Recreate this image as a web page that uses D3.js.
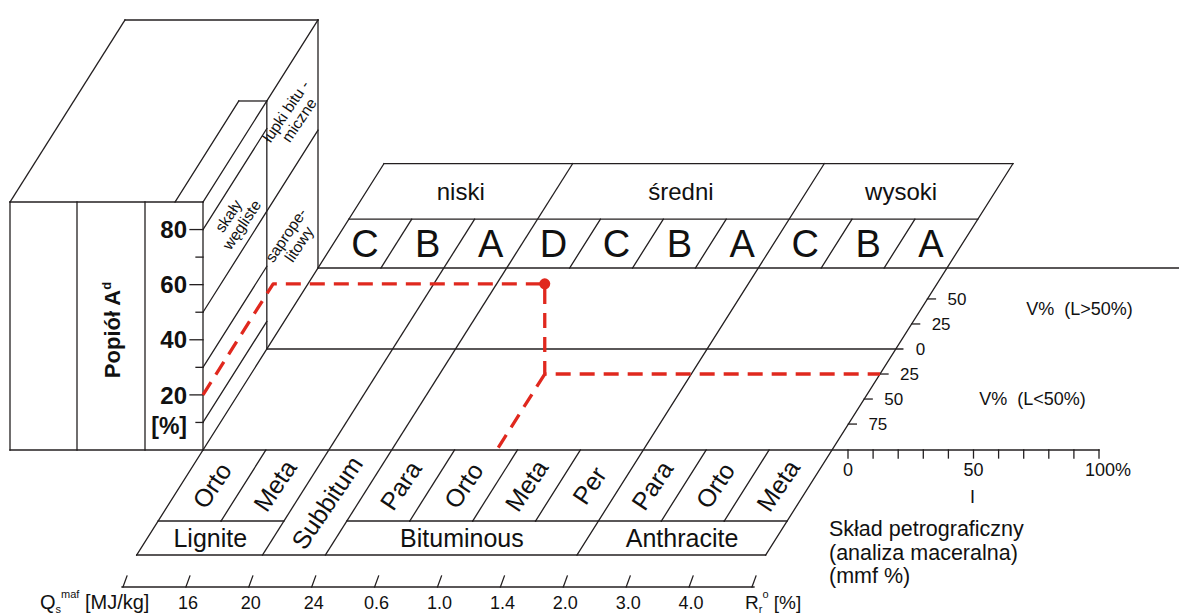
<!DOCTYPE html>
<html>
<head>
<meta charset="utf-8">
<script src="https://cdn.jsdelivr.net/npm/d3@7"></script>
<style>
	body { margin: 0; background: #fff; }
	svg { display: block; font-family: "Liberation Sans", Arial, sans-serif; }
</style>
</head>
<body>
<svg id="chart" width="1179" height="615"></svg>
<script>
// chart data
const ashTicks = [10, 20, 30, 40, 50, 60, 70, 80];
const ashLabelled = [20, 40, 60, 80];
const sideBoundsCoal = [80, 30, 10];
const sideBoundsAll = [50];
const sideZones = [
	{ lines: ["skały", "węgliste"], ash: [50, 80], col: 0 },
	{ lines: ["łupki bitu -", "miczne"], ash: [50, 90], col: 1 },
	{ lines: ["saprope-", "litowy"], ash: [0, 50], col: 1 },
];
const rankClasses = ["Lignite", "Subbitum", "Bituminous", "Anthracite"];
const rankClassSpans = [2, 1, 4, 3];
const rankSubclasses = ["Orto", "Meta", null, "Para", "Orto", "Meta", "Per", "Para", "Orto", "Meta"];
const rankGroups = ["niski", "średni", "wysoki"];
const rankGroupSpans = [3, 4, 3];
const gradeLetters = ["C", "B", "A", "D", "C", "B", "A", "C", "B", "A"];
const qsTicks = ["16", "20", "24"];
const rrTicks = ["0.6", "1.0", "1.4", "2.0", "3.0", "4.0"];
const vTicks = [50, 25, 0, -25, -50, -75];
const petroTicks = [0, 10, 20, 30, 40, 50, 60, 70, 80, 90, 100];
const petroLabels = [0, 50, 100];
const sample = { rank: 4.67, ash: 20, v: -25 };

const svg = d3.select("#chart");
const ink = "#231f20";
const red = "#e0281e";
const textInk = "#111";

// scales: rank slots along the front edge, ash upwards, depth is oblique
const x = d3.scaleLinear().domain([0, rankSubclasses.length]).range([203, 832]);
const y = d3.scaleLinear().domain([0, 90]).range([450, 202]);
const pV = d3.scaleLinear().domain([-75, 50]).range([0.1425, 0.83]);
const petro = d3.scaleLinear().domain([0, 100]).range([848, 1099]);
const DX = 115, DY = 182;
const proj = (x0, y0, p) => [x0 + p * DX, y0 - p * DY];

const y0 = y(0);
const P_BOT = -0.577, P_MID = -0.39, P_COL = pV(0), P_GRADE = 1.268, P_GROUP = 1.574, P_ASH = 0.61;
const at = (k, p) => proj(x(k), y0, p);

const classEdges = Array.from(d3.cumsum([0, ...rankClassSpans]));
const groupEdges = Array.from(d3.cumsum([0, ...rankGroupSpans]));

const segs = [];
const add = (a, b) => segs.push([a, b]);

// left block (ash)
const boxLeft = 10, boxCols = [77, 145], notchX = 175;
const boxTop = y(90);
add([boxLeft, boxTop], [x(0), boxTop]);
add([boxLeft, y0], [x(0), y0]);
add([boxLeft, boxTop], [boxLeft, y0]);
add([x(0), boxTop], [x(0), y0]);
boxCols.forEach(c => add([c, boxTop], [c, y0]));
add([boxLeft, boxTop], proj(boxLeft, boxTop, 1));
add(proj(boxLeft, boxTop, 1), proj(x(0), boxTop, 1));
add([x(0), boxTop], proj(x(0), boxTop, 1));
add([notchX, boxTop], proj(notchX, boxTop, P_COL));
add(proj(notchX, boxTop, P_COL), proj(x(0), boxTop, P_COL));
add(proj(x(0), boxTop, P_COL), proj(x(0), y0, P_COL));
add(proj(x(0), boxTop, 1), proj(x(0), y0, 1));
sideBoundsCoal.forEach(a => add(proj(x(0), y(a), 0), proj(x(0), y(a), P_COL)));
sideBoundsAll.forEach(a => add(proj(x(0), y(a), 0), proj(x(0), y(a), 1)));
ashTicks.forEach(a => add([x(0) - (ashLabelled.includes(a) ? 13 : 7), y(a)], [x(0), y(a)]));

// slanted boundaries of rank slots
d3.range(rankSubclasses.length + 1).forEach(k => {
	if (classEdges.includes(k)) {
		add(at(k, P_BOT), at(k, groupEdges.includes(k) ? P_GROUP : P_GRADE));
	} else {
		add(at(k, P_MID), at(k, 0));
		add(at(k, 1), at(k, P_GRADE));
	}
});

// horizontal lines
add([x(0), y0], [petro(100), y0]);
rankSubclasses.forEach((s, k) => { if (s) add(at(k, P_MID), at(k + 1, P_MID)); });
add(at(0, P_BOT), at(10, P_BOT));
add(at(0, P_COL), [at(10, P_COL)[0] + 7, at(10, P_COL)[1]]);
add(at(0, 1), [1179, at(0, 1)[1]]);
add(at(0, P_GRADE), at(10, P_GRADE));
add(at(0, P_GROUP), at(10, P_GROUP));

// V% ticks
vTicks.filter(v => v !== 0).forEach(v => {
	const [tx, ty] = at(10, pV(v));
	add([tx, ty], [tx + 8, ty]);
});

// petrographic axis ticks
petroTicks.forEach(t => add([petro(t), y0], [petro(t), y0 + 8]));

// rank axis at the bottom
const ax = k => x(k) - 80;
const axY = 587;
add([ax(0) - 1, axY], [ax(10) + 2, axY]);
d3.range(rankSubclasses.length + 1).forEach(k => add([ax(k), axY], [ax(k) + 4, axY - 11]));

svg.append("g")
	.selectAll("line")
	.data(segs)
	.join("line")
	.attr("x1", d => d[0][0])
	.attr("y1", d => d[0][1])
	.attr("x2", d => d[1][0])
	.attr("y2", d => d[1][1])
	.attr("stroke", ink)
	.attr("stroke-width", 1.3)
	.attr("stroke-linecap", "square");

// text helpers
const txt = (px, py, s, size, opts = {}) => svg.append("text")
	.attr("x", px)
	.attr("y", py)
	.attr("font-size", size)
	.attr("font-weight", opts.bold ? "bold" : null)
	.attr("text-anchor", opts.anchor || "middle")
	.attr("fill", textInk)
	.text(s);

function rotText([cx, cy], lines, size, angle, lh) {
	const t = svg.append("text")
		.attr("transform", `translate(${cx},${cy}) rotate(${angle})`)
		.attr("text-anchor", "middle")
		.attr("font-size", size)
		.attr("fill", textInk);
	lines.forEach((s, i) => t.append("tspan")
		.attr("x", 0)
		.attr("y", (i - (lines.length - 1) / 2) * lh)
		.attr("dy", "0.35em")
		.text(s));
}

// ash labels
ashLabelled.forEach(a => txt(187, y(a), a, 24, { bold: true, anchor: "end" }).attr("dy", "0.36em"));
txt(187, 434, "[%]", 23, { bold: true, anchor: "end" });
const pop = svg.append("text")
	.attr("transform", "translate(112,330) rotate(-90)")
	.attr("text-anchor", "middle")
	.attr("font-size", 22)
	.attr("font-weight", "bold")
	.attr("dy", "0.35em")
	.attr("fill", textInk);
pop.append("tspan").text("Popiół A");
pop.append("tspan").attr("font-size", 13).attr("dy", -9).text("d");

sideZones.forEach(z => {
	const p = z.col === 0 ? P_COL / 2 : (P_COL + 1) / 2;
	rotText(proj(x(0), y((z.ash[0] + z.ash[1]) / 2), p), z.lines, 15.5, -56, 16);
});

// grade groups and letters
rankGroups.forEach((g, i) => {
	const c = proj((x(groupEdges[i]) + x(groupEdges[i + 1])) / 2, y0, (P_GRADE + P_GROUP) / 2);
	txt(c[0], c[1], g, 24).attr("dy", "0.35em");
});
gradeLetters.forEach((l, k) => {
	const c = proj(x(k + 0.5), y0, (1 + P_GRADE) / 2);
	txt(c[0], c[1], l, 38).attr("dy", "0.36em");
});

// rank subclasses and classes in the front band
rankSubclasses.forEach((s, k) => {
	if (s) rotText(proj(x(k + 0.5), y0, P_MID / 2), [s], 25, -56, 0);
});
rankClasses.forEach((c, i) => {
	const a = classEdges[i], b = classEdges[i + 1];
	const mid = (x(a) + x(b)) / 2;
	if (rankSubclasses[a] === null) {
		rotText(proj(mid, y0, P_BOT / 2), [c], 25, -56, 0);
	} else {
		const p = proj(mid, y0, (P_MID + P_BOT) / 2);
		txt(p[0], p[1], c, 25).attr("dy", "0.35em");
	}
});

// V% axis labels
vTicks.forEach(v => {
	const [tx, ty] = at(10, pV(v));
	txt(tx + 20, ty, Math.abs(v), 17, { anchor: "start" }).attr("dy", "0.35em");
});
const vUp = at(10, pV(40)), vDown = at(10, pV(-50));
txt(vUp[0] + 105, vUp[1], "V%  (L>50%)", 18, { anchor: "start" }).attr("dy", "0.35em").style("white-space", "pre");
txt(vDown[0] + 115, vDown[1], "V%  (L<50%)", 18, { anchor: "start" }).attr("dy", "0.35em").style("white-space", "pre");

// petrographic axis labels
petroLabels.forEach(t => {
	if (t === 100) txt(petro(t) - 14, 476, "100%", 18, { anchor: "start" });
	else txt(petro(t), 476, t, 18);
});
txt(petro(50) - 1, 503, "I", 18);
["Skład petrograficzny", "(analiza maceralna)", "(mmf %)"].forEach((s, i) =>
	txt(829, 536 + i * 23.5, s, 21.5, { anchor: "start" }));

// rank axis labels
[...qsTicks, ...rrTicks].forEach((s, i) => txt(ax(i + 1) + 2, 609, s, 18));
const q = svg.append("text").attr("x", 40).attr("y", 609).attr("font-size", 20).attr("fill", textInk);
q.append("tspan").text("Q");
q.append("tspan").attr("font-size", 11).attr("dy", 4).text("s");
q.append("tspan").attr("font-size", 11).attr("dy", -15).text("maf");
q.append("tspan").attr("dy", 11).text(" [MJ/kg]");
const r = svg.append("text").attr("x", ax(10) - 7).attr("y", 609).attr("font-size", 19).attr("fill", textInk);
r.append("tspan").text("R");
r.append("tspan").attr("font-size", 11).attr("dy", 4).text("r");
r.append("tspan").attr("font-size", 11).attr("dy", -15).text("o");
r.append("tspan").attr("dy", 11).text(" [%]");

// example coal sample (red dashed path)
const fx = x(sample.rank), pv = pV(sample.v);
const F = proj(fx, y0, pv);
const start = proj(x(0), y(sample.ash), 0);
const corner = proj(x(0), y(sample.ash), P_ASH);
const dot = [F[0], corner[1]];
const vEnd = proj(x(10), y0, pv);
const front = proj(fx, y0, 0);
const line = d3.line();
svg.append("g")
	.selectAll("path")
	.data([[start, corner, dot, F, vEnd], [F, front]])
	.join("path")
	.attr("d", line)
	.attr("fill", "none")
	.attr("stroke", red)
	.attr("stroke-width", 3.3)
	.attr("stroke-dasharray", "15 9")
	.attr("stroke-linejoin", "round");
svg.append("circle")
	.attr("cx", dot[0])
	.attr("cy", dot[1])
	.attr("r", 5.5)
	.attr("fill", red);
</script>
</body>
</html>
